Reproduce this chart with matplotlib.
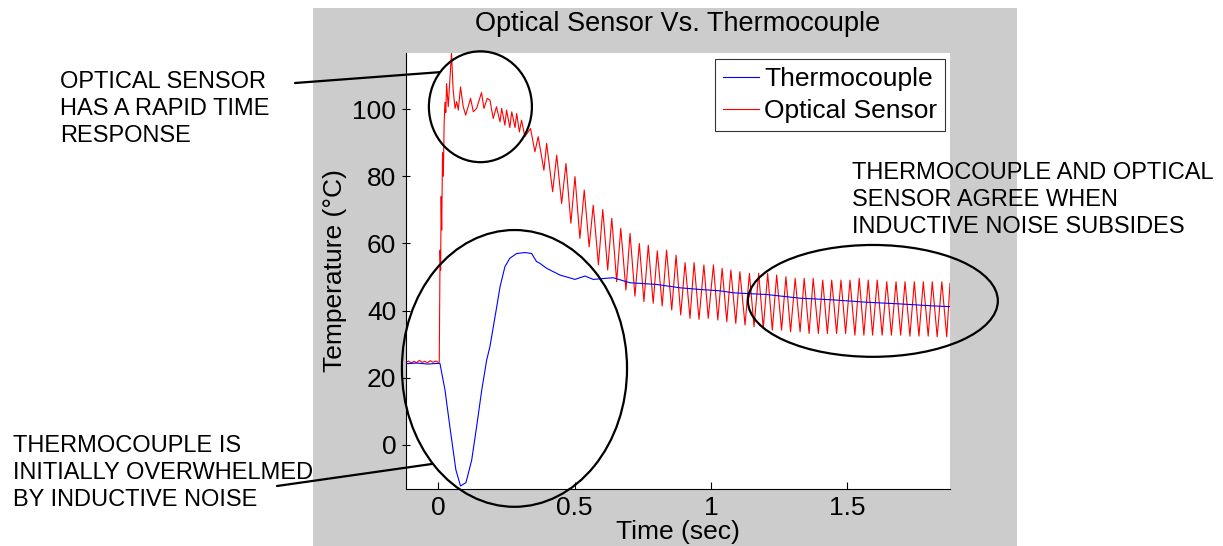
import matplotlib
matplotlib.use("Agg")
import matplotlib.pyplot as plt
from matplotlib.patches import Ellipse, Rectangle

# ---------------- data ----------------
red_t = [-0.119, -0.110, -0.100, -0.090, -0.080, -0.070, -0.060, -0.050, -0.040,
         -0.030, -0.020, -0.010, 0.000, 0.003,
         0.006, 0.008, 0.010, 0.012, 0.015, 0.018, 0.021, 0.024, 0.027, 0.030,
         0.036, 0.042, 0.048, 0.054, 0.061, 0.067, 0.073, 0.081, 0.091, 0.100,
         0.109, 0.118, 0.128, 0.140, 0.158, 0.167, 0.179, 0.189, 0.201, 0.213,
         0.226, 0.232, 0.244, 0.250, 0.262, 0.269, 0.281, 0.287, 0.297, 0.305,
         0.317, 0.338, 0.354, 0.366, 0.387, 0.397, 0.419, 0.434, 0.452, 0.468,
         0.486, 0.501, 0.519, 0.535, 0.553, 0.568, 0.587, 0.603, 0.621, 0.636,
         0.654, 0.669, 0.688, 0.703, 0.721, 0.737, 0.754, 0.770, 0.788, 0.803,
         0.821, 0.837, 0.856, 0.872, 0.889, 0.905, 0.923, 0.938, 0.956, 0.974,
         0.990, 1.009, 1.025, 1.041, 1.058, 1.073, 1.091, 1.106, 1.125, 1.141,
         1.158, 1.175, 1.192, 1.208, 1.225, 1.241, 1.259, 1.275, 1.292, 1.309,
         1.327, 1.342, 1.360, 1.375, 1.394, 1.410, 1.427, 1.443, 1.461, 1.477,
         1.494, 1.510, 1.528, 1.544, 1.561, 1.577, 1.593, 1.610, 1.628, 1.645,
         1.662, 1.679, 1.696, 1.712, 1.730, 1.746, 1.763, 1.779, 1.797, 1.812,
         1.830, 1.847, 1.865, 1.877]
red_v = [24.6, 25.0, 24.4, 24.9, 24.5, 25.2, 24.6, 24.9, 24.5,
         25.1, 24.6, 25.0, 24.6, 24.7,
         58.0, 52.0, 74.0, 64.0, 87.0, 80.0, 96.0, 102.0, 99.0, 107.6,
         100.7, 108.6, 116.7, 105.7, 100.2, 102.2, 99.7, 106.6, 100.7, 98.2,
         100.7, 103.2, 99.2, 100.2, 104.9, 100.2, 103.2, 102.7, 97.2, 100.7,
         96.2, 100.2, 95.2, 99.7, 94.5, 99.2, 94.5, 98.7, 93.2, 96.7,
         91.8, 94.2, 87.3, 91.8, 81.8, 89.8, 75.4, 86.3, 71.9, 83.8,
         66.0, 79.9, 61.5, 75.9, 59.0, 71.4, 53.6, 70.1, 52.1, 67.5,
         48.6, 64.5, 46.1, 63.0, 44.3, 60.0, 42.7, 59.5, 42.2, 57.8,
         41.4, 58.0, 40.2, 56.5, 38.7, 54.3, 37.7, 54.3, 37.4, 53.6,
         37.7, 53.6, 37.2, 52.6, 36.7, 52.1, 36.2, 51.6, 35.7, 51.1,
         35.2, 51.1, 34.7, 51.1, 34.2, 50.6, 34.2, 50.1, 33.7, 49.6,
         33.7, 49.6, 33.2, 49.6, 33.2, 49.1, 33.2, 49.1, 33.2, 49.1,
         33.2, 49.1, 32.7, 49.6, 32.7, 49.1, 32.7, 49.1, 32.7, 48.6,
         32.7, 48.6, 32.7, 48.6, 32.4, 48.6, 32.4, 48.6, 32.4, 48.6,
         32.2, 48.6, 32.2, 48.1]

blue_t = [-0.119, -0.080, -0.040, 0.000, 0.0055, 0.024, 0.042, 0.064, 0.081,
          0.101, 0.122, 0.140, 0.159, 0.177, 0.189, 0.214, 0.226, 0.244, 0.262,
          0.287, 0.317, 0.342, 0.360, 0.372, 0.397, 0.446, 0.501, 0.538, 0.568,
          0.641, 0.703, 0.800, 0.886, 0.960, 1.033, 1.082, 1.204, 1.327, 1.449,
          1.571, 1.694, 1.816, 1.877]
blue_v = [24.2, 24.4, 24.1, 24.3, 24.3, 16.4, 5.4, -7.4, -12.2,
          -11.2, -4.5, 5.4, 16.4, 25.3, 29.3, 41.2, 47.1, 53.1, 55.6,
          57.0, 57.3, 57.0, 54.6, 54.1, 52.6, 50.6, 49.3, 50.3, 49.3,
          49.8, 48.3, 47.8, 46.8, 46.3, 45.9, 45.3, 44.8, 43.7, 43.2,
          42.5, 42.0, 41.4, 41.2]

x_ticks = [0, 0.5, 1, 1.5]
x_tick_labels = ["0", "0.5", "1", "1.5"]
y_ticks = [0, 20, 40, 60, 80, 100]
y_tick_labels = ["0", "20", "40", "60", "80", "100"]

title = "Optical Sensor Vs. Thermocouple"
x_label = "Time (sec)"
y_label = "Temperature (°C)"
series_names = ["Thermocouple", "Optical Sensor"]

notes = ["OPTICAL SENSOR\nHAS A RAPID TIME\nRESPONSE",
         "THERMOCOUPLE IS\nINITIALLY OVERWHELMED\nBY INDUCTIVE NOISE",
         "THERMOCOUPLE AND OPTICAL\nSENSOR AGREE WHEN\nINDUCTIVE NOISE SUBSIDES"]

# ---------------- figure ----------------
W, H = 1223, 546
plt.rcParams['font.family'] = ['Liberation Sans', 'DejaVu Sans']
fig = plt.figure(figsize=(W / 100, H / 100), dpi=100, facecolor='white')

def fx(px):
    return px / W

def fy(py):
    return 1 - py / H

# grey MATLAB figure panel (behind everything)
fig.patches.append(Rectangle((fx(313), 0), fx(1017) - fx(313), fy(8),
                             transform=fig.transFigure, facecolor='#cccccc',
                             edgecolor='none', zorder=-10))

ax = fig.add_axes([fx(406), fy(489), fx(950) - fx(406), fy(53) - fy(489)])
ax.set_facecolor('white')

l_red, = ax.plot(red_t, red_v, color='#ff0000', lw=0.8, zorder=2)
l_blue, = ax.plot(blue_t, blue_v, color='#0000ff', lw=0.8, zorder=3)

ax.set_xlim(-0.119, 1.877)
ax.set_ylim(-13.1, 116.7)
ax.set_xticks(x_ticks)
ax.set_xticklabels(x_tick_labels)
ax.set_yticks(y_ticks)
ax.set_yticklabels(y_tick_labels)

fs = 19
ax.tick_params(axis='x', direction='in', length=4.7, width=0.8, pad=5,
               labelsize=fs, colors='black')
ax.tick_params(axis='y', direction='inout', length=6, width=0.8, pad=4,
               labelsize=fs, colors='black')
for s in ['top', 'right']:
    ax.spines[s].set_visible(False)
for s in ['left', 'bottom']:
    ax.spines[s].set_color('black')
    ax.spines[s].set_linewidth(0.8)

ax.set_title(title, fontsize=19.5, pad=16)
ax.set_xlabel(x_label, fontsize=fs, labelpad=0)
ax.set_ylabel(y_label, fontsize=fs, labelpad=4)

leg = ax.legend([l_blue, l_red], series_names, fontsize=fs,
                loc='upper right', bbox_to_anchor=(fx(945), fy(59)),
                bbox_transform=fig.transFigure, borderaxespad=0,
                frameon=True, fancybox=False, edgecolor='black',
                handlelength=1.35, handletextpad=0.2, borderpad=0.3,
                labelspacing=0.3)
leg.get_frame().set_linewidth(0.8)
leg.set_zorder(10)

# annotation ellipses (in data coordinates)
ell_specs = [((0.154, 100.7), 0.378, 33.0),
             ((0.279, 22.8), 0.826, 82.4),
             ((1.594, 42.9), 0.917, 33.3)]
for (c, w, h) in ell_specs:
    ax.add_patch(Ellipse(c, w, h, fill=False, edgecolor='black', lw=1.6,
                         clip_on=False, zorder=5))

# leader lines from note text to ellipses
ax.annotate('', xy=(0.0055, 111.0), xycoords='data',
            xytext=(fx(295), fy(83)), textcoords='figure fraction',
            arrowprops=dict(arrowstyle='-', color='black', lw=1.6,
                            shrinkA=0, shrinkB=0), annotation_clip=False)
ax.annotate('', xy=(-0.024, -5.65), xycoords='data',
            xytext=(fx(277), fy(486)), textcoords='figure fraction',
            arrowprops=dict(arrowstyle='-', color='black', lw=1.6,
                            shrinkA=0, shrinkB=0), annotation_clip=False)

# note texts: va='baseline' aligns the last line's baseline
note_fs = 17
fig.text(fx(60), fy(142), notes[0], fontsize=note_fs, ha='left', va='baseline',
         linespacing=1.3)
fig.text(fx(13), fy(506), notes[1], fontsize=note_fs, ha='left', va='baseline',
         linespacing=1.3)
fig.text(fx(852), fy(233), notes[2], fontsize=note_fs, ha='left', va='baseline',
         linespacing=1.3)

fig.savefig('out.png', dpi=100, facecolor='white')
